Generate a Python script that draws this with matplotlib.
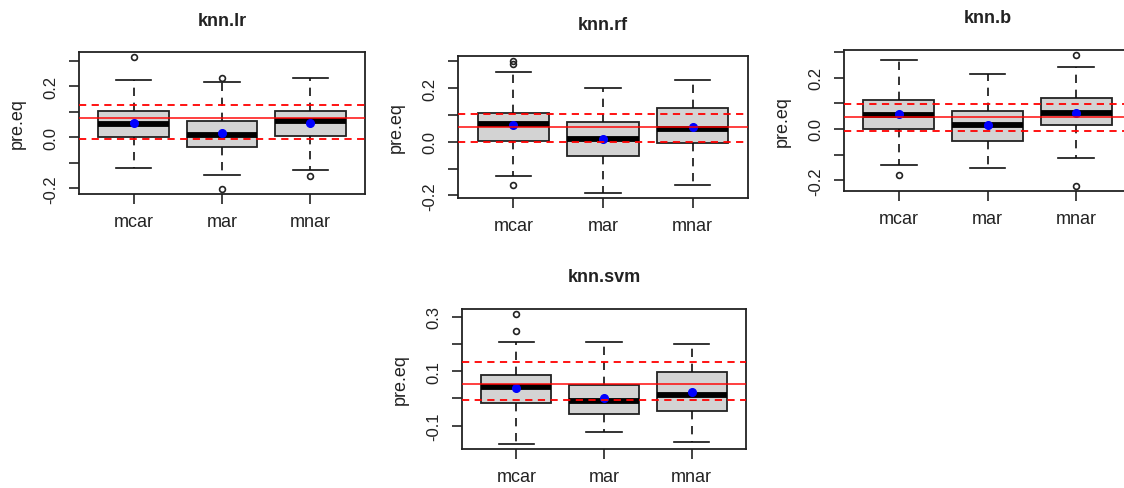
import matplotlib
matplotlib.use('Agg')
import matplotlib.pyplot as plt

plt.rcParams['font.family'] = ['Liberation Sans', 'DejaVu Sans']

groups = ['mcar', 'mar', 'mnar']
titles = ['knn.lr', 'knn.rf', 'knn.b', 'knn.svm']

# box statistics per panel, one value per group (mcar, mar, mnar)
q1 = [[0.000, -0.038, 0.005],
      [0.004, -0.052, -0.004],
      [0.001, -0.047, 0.014],
      [-0.018, -0.057, -0.045]]
medians = [[0.051, 0.008, 0.066],
           [0.065, 0.009, 0.049],
           [0.054, 0.017, 0.062],
           [0.043, -0.009, 0.012]]
q3 = [[0.105, 0.066, 0.105],
      [0.109, 0.073, 0.127],
      [0.114, 0.071, 0.122],
      [0.087, 0.048, 0.096]]
whisk_lo = [[-0.120, -0.149, -0.129],
            [-0.126, -0.190, -0.163],
            [-0.141, -0.150, -0.113],
            [-0.167, -0.123, -0.162]]
whisk_hi = [[0.226, 0.216, 0.234],
            [0.260, 0.200, 0.230],
            [0.267, 0.212, 0.240],
            [0.206, 0.206, 0.201]]
means = [[0.055, 0.016, 0.058],
         [0.062, 0.009, 0.056],
         [0.058, 0.017, 0.062],
         [0.038, 0.000, 0.022]]
outliers = [[[0.314], [0.233, -0.201], [-0.150]],
            [[0.300, 0.288, -0.160], [], []],
            [[-0.179], [], [0.287, -0.221]],
            [[0.309, 0.246], [], []]]

# red reference lines: centre (solid) and band (dashed)
ref_mid = [0.078, 0.056, 0.047, 0.052]
ref_lo = [-0.005, 0.000, -0.009, -0.005]
ref_hi = [0.128, 0.105, 0.099, 0.135]

yticks = [[-0.2, -0.1, 0.0, 0.1, 0.2, 0.3]] * 3 + [[-0.1, 0.0, 0.1, 0.2, 0.3]]
ytick_labels = [['-0.2', '', '0.0', '', '0.2', '']] * 3 + [['-0.1', '', '0.1', '', '0.3']]

W, H = 1124, 489
# axes frames in pixels: left, top, right, bottom
frames = [(79, 53, 365, 195), (458, 57, 748, 199),
          (844, 51, 1131, 192), (462, 310, 746, 450)]

fig = plt.figure(figsize=(W / 100, H / 100), dpi=100)

for i, (l, t, r, b) in enumerate(frames):
    ax = fig.add_axes([l / W, (H - b) / H, (r - l) / W, (b - t) / H])
    stats = []
    for j, g in enumerate(groups):
        stats.append(dict(med=medians[i][j], q1=q1[i][j], q3=q3[i][j],
                          whislo=whisk_lo[i][j], whishi=whisk_hi[i][j],
                          fliers=outliers[i][j], mean=means[i][j], label=g))
    ax.bxp(stats, positions=[1, 2, 3], widths=0.8, capwidths=0.4,
           patch_artist=True, showmeans=True,
           boxprops=dict(facecolor='#D3D3D3', edgecolor='#222222', linewidth=1.3),
           medianprops=dict(color='black', linewidth=4.2, solid_capstyle='butt'),
           whiskerprops=dict(color='#111111', linewidth=1.2, linestyle=(0, (5, 4))),
           capprops=dict(color='#111111', linewidth=1.2),
           flierprops=dict(marker='o', markerfacecolor='none', markeredgecolor='#222222',
                           markersize=4.2, markeredgewidth=1.2),
           meanprops=dict(marker='o', markerfacecolor='blue', markeredgecolor='blue',
                          markersize=5.5))

    ax.axhline(ref_mid[i], color='red', alpha=0.75, linewidth=1.4, zorder=5)
    ax.axhline(ref_lo[i], color='red', linewidth=1.3, linestyle=(0, (4, 3)), zorder=5)
    ax.axhline(ref_hi[i], color='red', linewidth=1.3, linestyle=(0, (4, 3)), zorder=5)

    # R-style limits: data range extended by 4 %
    vals = whisk_lo[i] + whisk_hi[i] + [v for o in outliers[i] for v in o]
    lo, hi = min(vals), max(vals)
    pad = (hi - lo) * 0.04
    ax.set_ylim(lo - pad, hi + pad)
    ax.set_xlim(0.38, 3.62)

    ax.set_yticks(yticks[i])
    ax.set_yticklabels(ytick_labels[i], rotation=90, va='center', fontsize=12)
    ax.set_xticks([1, 2, 3])
    ax.set_xticklabels(groups, fontsize=13)
    ax.tick_params(axis='y', direction='out', length=7, width=1.2, pad=8, colors='#222222')
    ax.tick_params(axis='x', direction='out', length=7, width=1.2, pad=7, colors='#222222')

    for s in ax.spines.values():
        s.set_linewidth(1.3)
        s.set_color('#222222')

    w_px, h_px = r - l, b - t
    ax.text(-62 / w_px, 0.5, 'pre.eq', transform=ax.transAxes, rotation=90,
            ha='center', va='center', fontsize=13, color='#222222')
    ax.text(0.5, 1 + 32 / h_px, titles[i], transform=ax.transAxes,
            ha='center', va='center', fontsize=13, fontweight='bold', color='#222222')

fig.savefig('out.png', dpi=100)
